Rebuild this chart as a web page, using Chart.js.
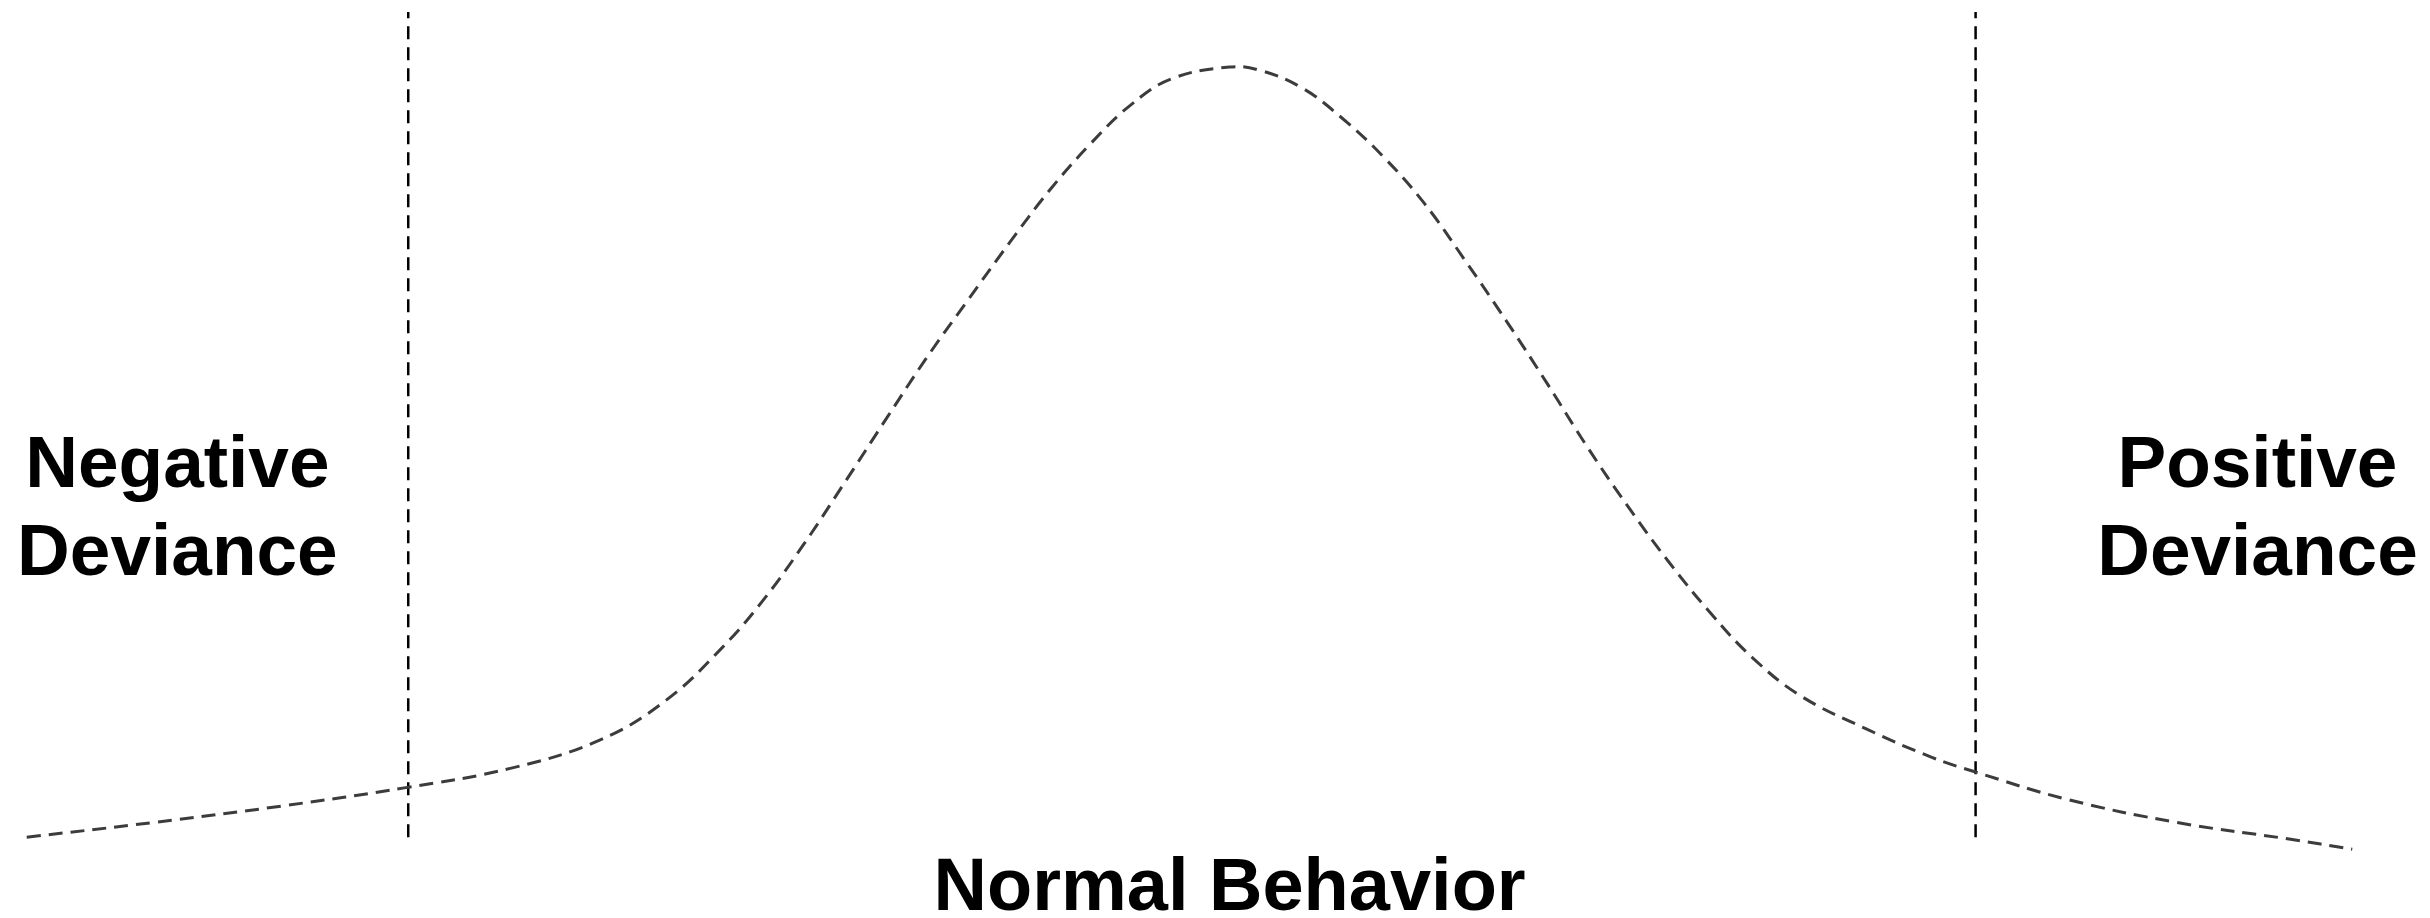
<!DOCTYPE html>
<html>
<head>
<meta charset="utf-8">
<title>Deviance curve</title>
<script src="https://cdn.jsdelivr.net/npm/chart.js@4"></script>
<style>
    html, body { margin: 0; padding: 0; background: #ffffff; }
    canvas { display: block; }
</style>
</head>
<body>
<canvas id="grafico" width="2430" height="918"></canvas>
<script>
// Curva de comportamiento (escala 0-100)
const curveX = [1.1, 6.3, 11.6, 16.7, 21.0, 24.7, 27.4, 29.7, 31.4, 33.1, 34.8, 36.5, 38.1, 39.8,
    41.5, 43.2, 44.9, 46.5, 48.2, 50.6, 51.9, 53.6, 55.2, 56.9, 58.6, 60.3, 62.0, 63.7, 65.3,
    67.0, 68.7, 70.4, 72.1, 74.1, 76.8, 79.5, 81.3, 85.1, 89.6, 94.2, 96.8];
const curveY = [8.8, 10.4, 12.2, 14.2, 16.3, 19.4, 23.7, 29.4, 34.6, 40.8, 47.6, 54.5, 60.9, 67.2,
    73.4, 79.3, 84.4, 88.5, 91.4, 92.7, 92.3, 90.4, 87.2, 83.0, 77.9, 71.6, 65.0, 58.1, 51.4,
    44.8, 38.7, 33.2, 28.4, 24.2, 20.6, 17.5, 15.9, 12.9, 10.4, 8.6, 7.5];

// Limites de desviacion (lineas verticales)
const thresholdX = [16.8, 81.3];
const thresholdRange = [8.8, 98.7];

// Etiquetas
const sideLabels = [
    { lines: ['Negative', 'Deviance'], x: 7.3 },
    { lines: ['Positive', 'Deviance'], x: 92.9 }
];
const axisLabel = 'Normal Behavior';

const curvePoints = curveX.map((x, i) => ({ x: x, y: curveY[i] }));

const thresholdSets = thresholdX.map(x => ({
    data: thresholdRange.map(y => ({ x: x, y: y })),
    borderColor: '#000000',
    borderWidth: 2.5,
    borderDash: [13, 8],
    pointRadius: 0,
    tension: 0
}));

// Plugin para dibujar los textos
const labelsPlugin = {
    id: 'etiquetas',
    afterDraw(chart) {
        const ctx = chart.ctx;
        const xs = chart.scales.x;
        ctx.save();
        ctx.fillStyle = '#000000';
        ctx.textAlign = 'center';
        ctx.textBaseline = 'alphabetic';
        ctx.font = 'bold 73px "Liberation Sans", Arial, sans-serif';

        sideLabels.forEach(label => {
            const px = xs.getPixelForValue(label.x);
            ctx.fillText(label.lines[0], px, 487);
            ctx.fillText(label.lines[1], px, 575);
        });

        ctx.font = 'bold 74px "Liberation Sans", Arial, sans-serif';
        ctx.fillText(axisLabel, xs.getPixelForValue(50.6), 910);
        ctx.restore();
    }
};

new Chart(document.getElementById('grafico').getContext('2d'), {
    type: 'line',
    data: {
        datasets: [
            {
                data: curvePoints,
                borderColor: '#3c3c3c',
                borderWidth: 3,
                borderDash: [14, 8],
                pointRadius: 0,
                tension: 0.4
            },
            ...thresholdSets
        ]
    },
    options: {
        responsive: false,
        devicePixelRatio: 1,
        animation: false,
        layout: { padding: 0 },
        plugins: {
            legend: { display: false },
            tooltip: { enabled: false }
        },
        scales: {
            x: { type: 'linear', min: 0, max: 100, display: false },
            y: { type: 'linear', min: 0, max: 100, display: false }
        }
    },
    plugins: [labelsPlugin]
});
</script>
</body>
</html>
